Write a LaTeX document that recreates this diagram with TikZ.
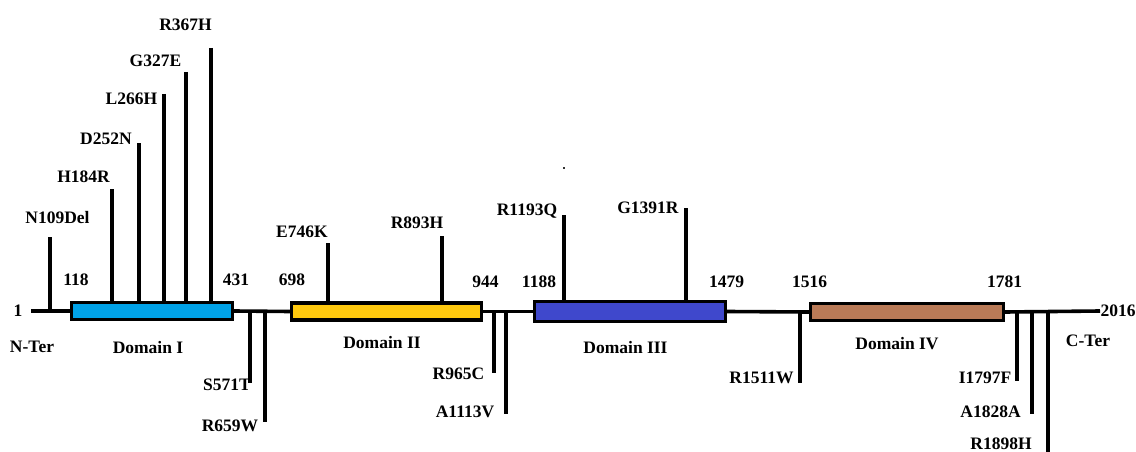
\documentclass[tikz,border=0pt]{standalone}
\usepackage{fontspec}
\setmainfont{Liberation Serif}
\definecolor{dOne}{RGB}{0,162,232}
\definecolor{dTwo}{RGB}{255,201,14}
\definecolor{dThree}{RGB}{63,72,204}
\definecolor{dFour}{RGB}{185,122,87}
\begin{document}
\begin{tikzpicture}[x=1pt,y=-1pt,
  lbl/.style={inner sep=0pt,font=\fontsize{17.5}{20}\selectfont\bfseries},
  dom/.style={draw=black,line width=3.4pt,inner sep=0pt,minimum height=17pt},
  bb/.style={line width=3.6pt},
  mut/.style={line width=3.1pt}]
\useasboundingbox (0,0) rectangle (1136,452);
% backbone
\coordinate (nstart) at (31,311);
\coordinate (cend) at (1100,311);
\node[dom,fill=dOne,minimum width=161pt] (d1) at (152,311) {};
\node[dom,fill=dTwo,minimum width=190pt] (d2) at (386.5,311.5) {};
\node[dom,fill=dThree,minimum width=191pt,minimum height=20pt] (d3) at (630,311.5) {};
\node[dom,fill=dFour,minimum width=193pt] (d4) at (907,312) {};
\draw[bb] (nstart) -- (d1.west);
\draw[bb] (d1.east) -- (d2.west);
\draw[bb] (d2.east) -- (d3.west);
\draw[bb] (d3.east) -- (d4.west);
\draw[bb] (d4.east) -- (cend);
% end labels
\node[lbl] (one) at (18,311) {1};
\node[lbl] (nter) at (32,347) {N-Ter};
\node[lbl] (cter) at (1088,341) {C-Ter};
\node[lbl] (last) at (1118,311) {2016};
% domain boundary numbers
\node[lbl] (p118) at (76,280) {118};
\node[lbl] (p431) at (236,280) {431};
\node[lbl] (p698) at (292,280) {698};
\node[lbl] (p944) at (485.5,282) {944};
\node[lbl] (p1188) at (539,282) {1188};
\node[lbl] (p1479) at (726.5,282) {1479};
\node[lbl] (p1516) at (809.7,282) {1516};
\node[lbl] (p1781) at (1004.5,282) {1781};
% domain names
\node[lbl] (n1) at (148,348) {Domain I};
\node[lbl] (n2) at (382,343) {Domain II};
\node[lbl] (n3) at (625.5,348) {Domain III};
\node[lbl] (n4) at (897,344) {Domain IV};
% upward mutations
\coordinate (t109) at (50,237);
\coordinate (t184) at (112,189);
\coordinate (t252) at (139,143);
\coordinate (t266) at (164,94);
\coordinate (t327) at (186,72);
\coordinate (t367) at (211,48);
\coordinate (t746) at (328,243);
\coordinate (t893) at (442,236);
\coordinate (t1193) at (564,215);
\coordinate (t1391) at (686,208);
\draw[mut] (t109) -- (t109 |- nstart);
\draw[mut] (t184) -- (t184 |- d1.north);
\draw[mut] (t252) -- (t252 |- d1.north);
\draw[mut] (t266) -- (t266 |- d1.north);
\draw[mut] (t327) -- (t327 |- d1.north);
\draw[mut] (t367) -- (t367 |- d1.north);
\draw[mut] (t746) -- (t746 |- d2.north);
\draw[mut] (t893) -- (t893 |- d2.north);
\draw[mut] (t1193) -- (t1193 |- d3.north);
\draw[mut] (t1391) -- (t1391 |- d3.north);
\node[lbl] (m109) at (57.5,218) {N109Del};
\node[lbl] (m184) at (83.5,177) {H184R};
\node[lbl] (m252) at (106,139) {D252N};
\node[lbl] (m266) at (131.5,99) {L266H};
\node[lbl] (m327) at (155.5,61) {G327E};
\node[lbl] (m367) at (185.5,25) {R367H};
\node[lbl] (m746) at (302,232) {E746K};
\node[lbl] (m893) at (417,223) {R893H};
\node[lbl] (m1193) at (527,211) {R1193Q};
\node[lbl] (m1391) at (648,208) {G1391R};
% downward mutations
\coordinate (b571) at (250,383);
\coordinate (b659) at (265,422);
\coordinate (b965) at (494,373);
\coordinate (b1113) at (506,414);
\coordinate (b1511) at (800,383);
\coordinate (b1797) at (1017,381);
\coordinate (b1828) at (1032,414);
\coordinate (b1898) at (1048,452);
\foreach \b in {b571,b659,b965,b1113,b1511,b1797,b1828,b1898}
  \draw[mut] (\b |- nstart) -- (\b);
\node[lbl] (m571) at (227,385) {S571T};
\node[lbl] (m659) at (230,426) {R659W};
\node[lbl] (m965) at (458.5,374) {R965C};
\node[lbl] (m1113) at (465,412) {A1113V};
\node[lbl] (m1511) at (761.5,378) {R1511W};
\node[lbl] (m1797) at (985,378) {I1797F};
\node[lbl] (m1828) at (990.5,412) {A1828A};
\node[lbl] (m1898) at (1001,444) {R1898H};
% stray dot
\fill[black!80] (562.5,167) rectangle (565,168.5);
\end{tikzpicture}
\end{document}
